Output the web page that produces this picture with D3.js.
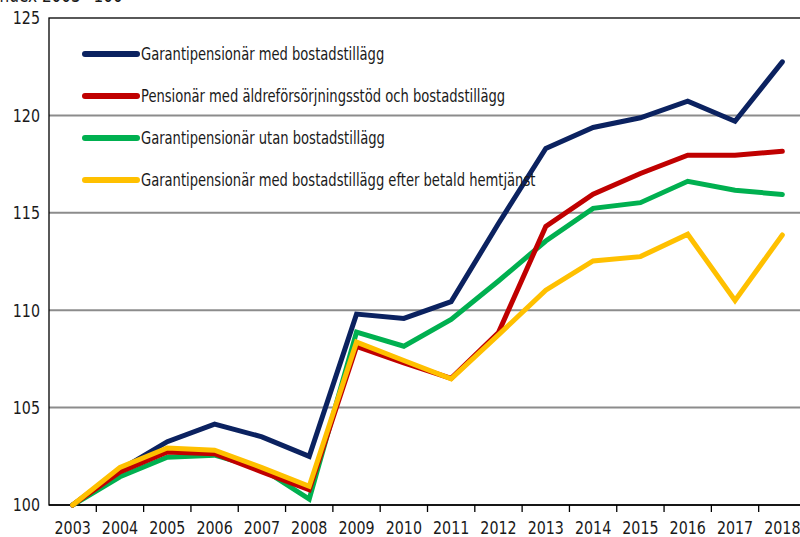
<!DOCTYPE html>
<html>
<head>
<meta charset="utf-8">
<script src="https://cdn.jsdelivr.net/npm/d3@7"></script>
<style>
  body { margin: 0; background: #fff; }
  text { font-family: "Liberation Sans Narrow", "DejaVu Sans Condensed", "Roboto Condensed", sans-serif; fill: #1a1a1a; }
</style>
</head>
<body>
<svg width="800" height="537"></svg>
<script>
var years = ['2003', '2004', '2005', '2006', '2007', '2008', '2009', '2010', '2011', '2012', '2013', '2014', '2015', '2016', '2017', '2018'];

var medBostad = [100, 101.8, 103.25, 104.15, 103.5, 102.5, 109.8, 109.58, 110.44, 114.45, 118.3, 119.38, 119.88, 120.73, 119.7, 122.75];
var aldreforsorjning = [100, 101.7, 102.72, 102.63, 101.7, 100.78, 108.14, 107.3, 106.5, 108.85, 114.3, 115.95, 117.02, 117.96, 117.96, 118.16];
var utanBostad = [100, 101.45, 102.45, 102.56, 101.86, 100.3, 108.88, 108.15, 109.52, 111.5, 113.55, 115.23, 115.52, 116.62, 116.16, 115.94];
var efterHemtjanst = [100, 101.93, 102.93, 102.81, 101.92, 100.96, 108.36, 107.42, 106.48, 108.73, 111.03, 112.53, 112.75, 113.9, 110.5, 113.86];

var yTicks = [100, 105, 110, 115, 120, 125];

var series = [
    { name: 'Garantipensionär med bostadstillägg', color: '#0b2260', values: medBostad },
    { name: 'Pensionär med äldreförsörjningsstöd och bostadstillägg', color: '#c00000', values: aldreforsorjning },
    { name: 'Garantipensionär utan bostadstillägg', color: '#00b050', values: utanBostad },
    { name: 'Garantipensionär med bostadstillägg efter betald hemtjänst', color: '#ffc000', values: efterHemtjanst }
];

var svg = d3.select('svg');

var x = d3.scaleBand()
    .domain(years)
    .range([49, 806]);

var y = d3.scaleLinear()
    .domain([100, 125])
    .range([505, 18]);

// title, mostly cut off at the top
svg.append('text')
    .attr('transform', 'translate(-5,2) scale(0.85,1)')
    .style('font-size', '20px')
    .text('Index 2003=100');

// gridlines
svg.append('g')
    .selectAll('line')
    .data(yTicks.filter(d => d > 100 && d < 125))
    .enter().append('line')
    .attr('x1', 49)
    .attr('x2', 806)
    .attr('y1', d => y(d))
    .attr('y2', d => y(d))
    .attr('stroke', '#8c8c8c')
    .attr('stroke-width', 2);

// frame
svg.append('rect')
    .attr('x', 49)
    .attr('y', y(125))
    .attr('width', 806 - 49)
    .attr('height', y(100) - y(125))
    .attr('fill', 'none')
    .attr('stroke', '#000')
    .attr('stroke-width', 1.3);

// y labels
svg.append('g')
    .selectAll('text')
    .data(yTicks)
    .enter().append('text')
    .attr('transform', d => 'translate(40,' + y(d) + ') scale(0.88,1)')
    .attr('dy', '0.35em')
    .attr('text-anchor', 'end')
    .style('font-size', '18px')
    .text(d => d);

// x axis
var xAxis = svg.append('g')
    .attr('transform', 'translate(0,' + y(100) + ')');

xAxis.append('line')
    .attr('x1', 49)
    .attr('x2', 806)
    .attr('stroke', '#000')
    .attr('stroke-width', 1.5);

xAxis.selectAll('.tick')
    .data(years.slice(1))
    .enter().append('line')
    .attr('class', 'tick')
    .attr('x1', d => x(d))
    .attr('x2', d => x(d))
    .attr('y1', 0)
    .attr('y2', 7)
    .attr('stroke', '#000')
    .attr('stroke-width', 1.3);

xAxis.selectAll('text')
    .data(years)
    .enter().append('text')
    .attr('transform', d => 'translate(' + (x(d) + x.bandwidth() / 2) + ',29) scale(0.88,1)')
    .attr('text-anchor', 'middle')
    .style('font-size', '18px')
    .text(d => d);

// lines
var line = d3.line()
    .x((d, i) => x(years[i]) + x.bandwidth() / 2)
    .y(d => y(d));

var drawOrder = [series[0], series[2], series[1], series[3]];

svg.append('g')
    .selectAll('path')
    .data(drawOrder)
    .enter().append('path')
    .attr('d', d => line(d.values))
    .attr('fill', 'none')
    .attr('stroke', d => d.color)
    .attr('stroke-width', 5)
    .attr('stroke-linejoin', 'miter')
    .attr('stroke-linecap', 'round');

// legend
var legend = svg.append('g')
    .selectAll('g')
    .data(series)
    .enter().append('g')
    .attr('transform', (d, i) => 'translate(0,' + (54 + i * 42) + ')');

legend.append('line')
    .attr('x1', 85)
    .attr('x2', 137)
    .attr('stroke', d => d.color)
    .attr('stroke-width', 6)
    .attr('stroke-linecap', 'round');

legend.append('text')
    .attr('transform', 'translate(141,0) scale(0.81,1)')
    .attr('dy', '0.35em')
    .style('font-size', '18px')
    .text(d => d.name);
</script>
</body>
</html>
